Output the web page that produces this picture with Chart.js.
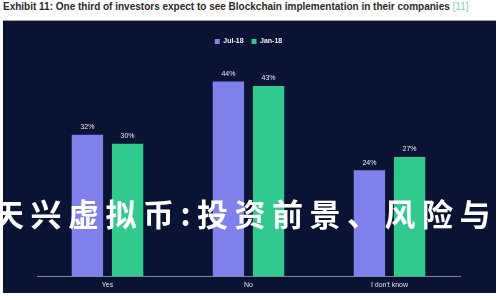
<!DOCTYPE html>
<html>
<head>
<meta charset="utf-8">
<script src="https://cdn.jsdelivr.net/npm/chart.js@4"></script>
<style>
    html, body { margin: 0; padding: 0; background: #fff; width: 500px; height: 300px; overflow: hidden; position: relative; font-family: "Liberation Sans", Arial, sans-serif; }
    #title { position: absolute; left: 3px; top: 1px; font-size: 10px; font-weight: bold; color: #2a2a2a; white-space: nowrap; }
    #title span { color: #7fd0c0; font-weight: normal; }
    #panel { position: absolute; left: 3px; top: 20px; width: 493px; height: 273px; background: #0a1334; border-top: 1px solid #9aa0aa; box-sizing: border-box; overflow: hidden; }
    #overlay { position: absolute; left: -7px; top: 190px; font-family: "Noto Sans CJK SC", sans-serif; font-weight: bold; font-size: 31px; letter-spacing: 6.5px; color: #fff; white-space: nowrap; }
</style>
</head>
<body>
<div id="title">Exhibit 11: One third of investors expect to see Blockchain implementation in their companies <span>[11]</span></div>
<div id="panel"><canvas id="barChart" width="493" height="272"></canvas></div>
<div id="overlay">天兴虚拟币:投资前景、风险与</div>
<script>
// answers to the survey question
const categories = ['Yes', 'No', "I don't know"];
const jul18 = [32, 44, 24];
const jan18 = [30, 43, 27];
const seriesNames = ['Jul-18', 'Jan-18'];

// draws the "32%" labels above each bar
const valueLabels = {
    id: 'valueLabels',
    afterDatasetsDraw(chart) {
        const ctx = chart.ctx;
        ctx.save();
        ctx.font = '7px "Liberation Sans", Arial, sans-serif';
        ctx.fillStyle = '#e8e8f0';
        ctx.textAlign = 'center';
        ctx.textBaseline = 'bottom';
        chart.data.datasets.forEach((ds, i) => {
            chart.getDatasetMeta(i).data.forEach((bar, j) => {
                ctx.fillText(ds.data[j] + '%', bar.x, bar.y - 4);
            });
        });
        ctx.restore();
    }
};

document.addEventListener('DOMContentLoaded', function() {
    const ctx = document.getElementById('barChart');
    new Chart(ctx.getContext('2d'), {
        type: 'bar',
        data: {
            labels: categories,
            datasets: [
                { label: seriesNames[0], data: jul18, backgroundColor: '#8080ea', categoryPercentage: 0.57, barPercentage: 0.78 },
                { label: seriesNames[1], data: jan18, backgroundColor: '#30c98e', categoryPercentage: 0.57, barPercentage: 0.78 }
            ]
        },
        options: {
            responsive: false,
            animation: false,
            layout: { padding: { left: 34, right: 36, top: 9, bottom: 0 } },
            scales: {
                x: {
                    grid: { display: false, drawTicks: false },
                    border: { color: '#7d8296', width: 1 },
                    ticks: { color: '#e0e0ea', font: { size: 7 }, padding: 4 }
                },
                y: {
                    display: false,
                    min: 0,
                    max: 50
                }
            },
            plugins: {
                legend: {
                    position: 'top',
                    labels: {
                        color: '#f0f0f5',
                        font: { size: 7, weight: 'bold' },
                        boxWidth: 5,
                        boxHeight: 5,
                        padding: 8
                    }
                },
                tooltip: { enabled: false }
            }
        },
        plugins: [valueLabels]
    });
});
</script>
</body>
</html>
